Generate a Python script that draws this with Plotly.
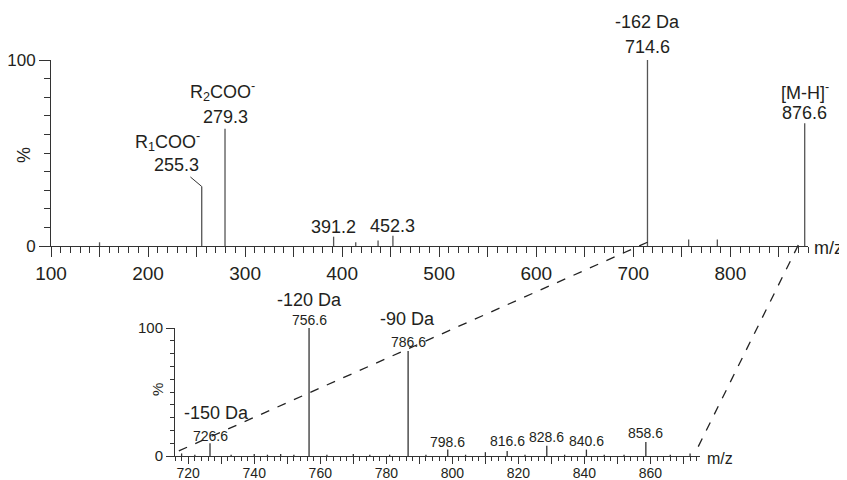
import plotly.graph_objects as go

# ---------------- data ----------------
# Full spectrum (top panel)
top_mz = [150.0, 255.3, 279.3, 391.2, 414.0, 437.0, 452.3, 714.6, 757.0, 786.6, 876.6]
top_int = [2, 32, 63, 5, 2, 3, 5.5, 100, 3.5, 3.5, 66]
top_x_range = [100, 880]
top_tick_vals = [100, 150, 200, 250, 300, 350, 400, 450, 500, 550, 600, 650, 700, 750, 800, 850]
top_tick_text = ["100", "", "200", "", "300", "", "400", "", "500", "", "600", "", "700", "", "800", ""]

# Zoomed spectrum (inset)
ins_mz = [718.0, 722.0, 726.6, 733.0, 740.0, 744.0, 748.0, 752.0, 756.6, 762.0, 770.0, 775.0,
          781.0, 786.6, 792.0, 798.6, 804.0, 810.0, 816.6, 822.0, 828.6, 834.0, 840.6, 846.0,
          852.0, 858.6, 866.0, 872.0]
ins_int = [2, 1, 10, 1, 1.5, 1, 1.5, 1, 100, 1, 1.5, 1,
           1, 82, 1, 5, 1, 3, 4, 1, 8, 1, 5, 1,
           1, 11, 1, 2]
ins_x_range = [716, 875]
ins_tick_vals = list(range(720, 871, 10))
ins_tick_text = [str(v) if v % 20 == 0 else "" for v in ins_tick_vals]

# zoom connector anchors (m/z in top panel -> m/z in inset)
conn_top_mz = [714.6, 870.0]
conn_ins_mz = [716.3, 873.5]

# ---------------- layout geometry ----------------
# page body has an 8px margin, so the figure is placed 8px in from the top-left
OFF = 8
W, H = 847 - OFF, 480 - OFF


def px_x(p):
    return (p - OFF) / W


def px_y(p):
    return 1 - (p - OFF) / H


top_dom_x = [px_x(51), px_x(808)]
top_dom_y = [px_y(246), px_y(60)]
ins_dom_x = [px_x(175), px_x(700)]
ins_dom_y = [px_y(456), px_y(328)]

FONT = "Liberation Sans, Arial, sans-serif"
TXT = "#231f20"


def sticks(mz, inten):
    xs, ys = [], []
    for m, i in zip(mz, inten):
        xs += [m, m, None]
        ys += [0, i, None]
    return xs, ys


fig = go.Figure()
tx, ty = sticks(top_mz, top_int)
fig.add_trace(go.Scatter(x=tx, y=ty, mode="lines", line=dict(color="#555555", width=1.3),
                         xaxis="x", yaxis="y", hoverinfo="skip", showlegend=False))
ix, iy = sticks(ins_mz, ins_int)
fig.add_trace(go.Scatter(x=ix, y=iy, mode="lines", line=dict(color="#333333", width=1.3),
                         xaxis="x2", yaxis="y2", hoverinfo="skip", showlegend=False))

axis_common = dict(showline=True, linecolor="#333333", linewidth=1, showgrid=False,
                   zeroline=False, ticks="outside", tickcolor="#333333", tickwidth=1,
                   automargin=False)

fig.update_layout(
    template="none",
    width=W, height=H, margin=dict(l=0, r=0, t=0, b=0, autoexpand=False),
    paper_bgcolor="white", plot_bgcolor="rgba(0,0,0,0)",
    font=dict(family=FONT, color=TXT),
    xaxis=dict(domain=top_dom_x, anchor="y", range=top_x_range, tickmode="array",
               tickvals=top_tick_vals, ticktext=top_tick_text, ticklen=10,
               tickfont=dict(size=19, family=FONT, color=TXT),
               minor=dict(dtick=10, tick0=100, ticklen=6, ticks="outside", tickcolor="#333333"),
               **axis_common),
    yaxis=dict(domain=top_dom_y, anchor="x", range=[0, 100], tickmode="array",
               tickvals=[0, 100], ticktext=["0", "100"], ticklen=11,
               tickfont=dict(size=17, family=FONT, color=TXT),
               minor=dict(dtick=10, tick0=0, ticklen=6, ticks="outside", tickcolor="#333333"),
               **axis_common),
    xaxis2=dict(domain=ins_dom_x, anchor="y2", range=ins_x_range, tickmode="array",
                tickvals=ins_tick_vals, ticktext=ins_tick_text, ticklen=7,
                ticklabelstandoff=-3,
                tickfont=dict(size=14, family=FONT, color=TXT),
                minor=dict(dtick=2, tick0=716, ticklen=4, ticks="outside", tickcolor="#333333"),
                **axis_common),
    yaxis2=dict(domain=ins_dom_y, anchor="x2", range=[0, 100], tickmode="array",
                tickvals=[0, 100], ticktext=["0", "100"], ticklen=8,
                tickfont=dict(size=15, family=FONT, color=TXT),
                minor=dict(dtick=10, tick0=0, ticklen=4, ticks="outside", tickcolor="#333333"),
                **axis_common),
)

anns = []


def lab(xr, yr, x, y, text, dy, size, dx=0):
    anns.append(dict(xref=xr, yref=yr, x=x, y=y, text=text, showarrow=False,
                     xanchor="center", yanchor="middle", xshift=dx, yshift=dy,
                     font=dict(size=size, family=FONT, color=TXT)))


# top panel labels
PL = 18
lab("x", "y", 279.3, 63, "279.3", 12, PL)
lab("x", "y", 279.3, 63, "R<sub>2</sub>COO<sup>-</sup>", 37, PL, -3)
lab("x", "y", 714.6, 100, "714.6", 13, PL)
lab("x", "y", 714.6, 100, "-162 Da", 38, PL)
lab("x", "y", 876.6, 66, "876.6", 10, PL)
lab("x", "y", 876.6, 66, "[M-H]<sup>-</sup>", 32, PL)
lab("x", "y", 391.2, 0, "391.2", 19, PL)
lab("x", "y", 452.3, 0, "452.3", 20, PL)
lab("x", "y", 255.3, 32, "R<sub>1</sub>COO<sup>-</sup>", 45, PL, -34)
anns.append(dict(xref="x", yref="y", x=255.3, y=32, text="255.3", showarrow=True,
                 arrowhead=0, arrowwidth=1, arrowcolor="#333333", ax=-25, ay=-21,
                 font=dict(size=PL, family=FONT, color=TXT)))

# inset labels
IL, DL = 14, 18
lab("x2", "y2", 756.6, 100, "756.6", 8, IL)
lab("x2", "y2", 756.6, 100, "-120 Da", 28, DL)
lab("x2", "y2", 786.6, 82, "786.6", 9, IL)
lab("x2", "y2", 786.6, 82, "-90 Da", 32, DL, -1)
lab("x2", "y2", 726.6, 10, "726.6", 7, IL)
lab("x2", "y2", 726.6, 10, "-150 Da", 30, DL, 6)
lab("x2", "y2", 798.6, 0, "798.6", 14, IL)
lab("x2", "y2", 816.6, 0, "816.6", 15, IL)
lab("x2", "y2", 828.6, 0, "828.6", 19, IL)
lab("x2", "y2", 840.6, 0, "840.6", 15, IL)
lab("x2", "y2", 858.6, 0, "858.6", 23, IL)

# axis titles
anns.append(dict(xref="paper", yref="paper", x=px_x(812), y=px_y(248), text="m/z", showarrow=False,
                 xanchor="left", yanchor="middle", font=dict(size=18, family=FONT, color=TXT)))
anns.append(dict(xref="paper", yref="paper", x=px_x(705), y=px_y(458), text="m/z", showarrow=False,
                 xanchor="left", yanchor="middle", font=dict(size=16, family=FONT, color=TXT)))
anns.append(dict(xref="paper", yref="paper", x=px_x(24), y=px_y(155), text="%", showarrow=False,
                 textangle=-90, xanchor="center", yanchor="middle",
                 font=dict(size=18, family=FONT, color=TXT)))
anns.append(dict(xref="paper", yref="paper", x=px_x(157), y=px_y(390), text="%", showarrow=False,
                 textangle=-90, xanchor="center", yanchor="middle",
                 font=dict(size=15, family=FONT, color=TXT)))
fig.update_layout(annotations=anns)


# connectors (converted from data units into paper units)
def to_paper(v, rng, dom):
    return dom[0] + (v - rng[0]) / (rng[1] - rng[0]) * (dom[1] - dom[0])


shapes = []
conn_top_y = [2, 0.5]
conn_ins_y = [3, 2.3]
for tm, im, tyv, iyv in zip(conn_top_mz, conn_ins_mz, conn_top_y, conn_ins_y):
    shapes.append(dict(type="line", xref="paper", yref="paper",
                       x0=to_paper(tm, top_x_range, top_dom_x), y0=to_paper(tyv, [0, 100], top_dom_y),
                       x1=to_paper(im, ins_x_range, ins_dom_x), y1=to_paper(iyv, [0, 100], ins_dom_y),
                       line=dict(color="#222222", width=1.3, dash="dash")))
fig.update_layout(shapes=shapes)

fig.write_html("out.html")
